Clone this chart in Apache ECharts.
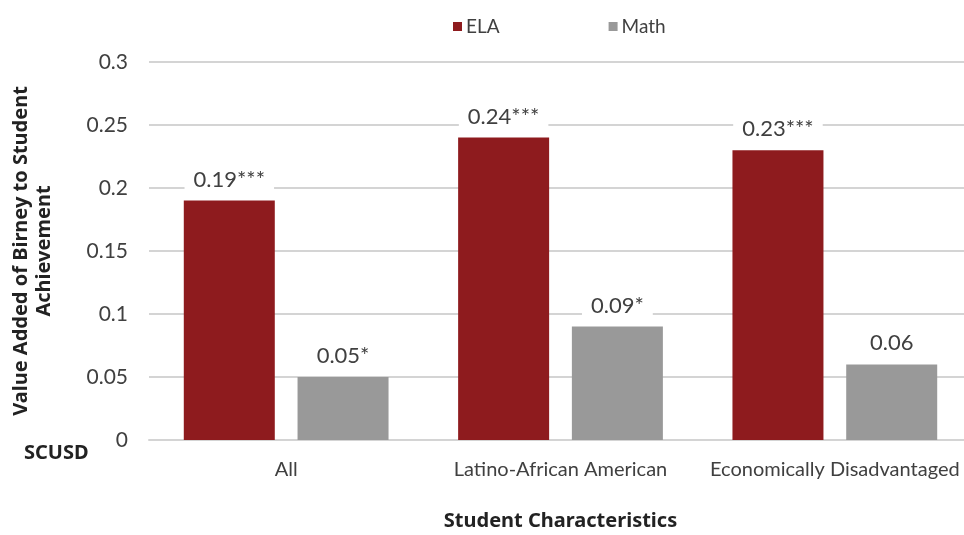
<!DOCTYPE html>
<html><head><meta charset="utf-8">
<script src="https://cdn.jsdelivr.net/npm/echarts@6/dist/echarts.min.js"></script>
<style>html,body{margin:0;padding:0;background:#fff}#c{width:964px;height:535px}</style>
</head><body><div id="c"></div>
<script>
const categories = ["All", "Latino-African American", "Economically Disadvantaged"];
const elaValues = [0.19, 0.24, 0.23];
const mathValues = [0.05, 0.09, 0.06];
const elaStars = ["***", "***", "***"];
const mathStars = ["*", "*", ""];
const yTicks = [0, 0.05, 0.1, 0.15, 0.2, 0.25, 0.3];

const FONT = "Lato";
const BOLD = "Noto Sans";
const chart = echarts.init(document.getElementById('c'));
function lbl(stars) {
  return {
    show: true, position: 'top', distance: 9,
    color: '#404040', fontSize: 22, fontFamily: FONT,
    backgroundColor: '#fff', padding: [1, 9],
    formatter: p => p.value + stars[p.dataIndex]
  };
}
chart.setOption({
  animation: false,
  textStyle: { fontFamily: FONT },
  legend: {
    top: 12, left: 448, itemGap: 109, itemWidth: 9, itemHeight: 9,
    icon: 'rect',
    textStyle: { fontSize: 19, color: '#404040', fontFamily: FONT, padding: [0, 0, 0, -1] },
    data: ['ELA', 'Math']
  },
  grid: { left: 149, top: 62, height: 378, width: 823, outerBoundsMode: 'none', containLabel: false },
  xAxis: {
    type: 'category', data: categories,
    axisLine: { lineStyle: { color: '#d4d4d4', width: 2 } },
    axisTick: { show: false },
    axisLabel: { fontSize: 20, color: '#404040', margin: 20, fontFamily: FONT, interval: 0, hideOverlap: false },
    name: 'Student Characteristics', nameLocation: 'middle', nameGap: 71,
    nameTextStyle: { fontWeight: 'bold', fontSize: 20, color: '#222', fontFamily: BOLD }
  },
  yAxis: {
    type: 'value', min: 0, max: 0.3, interval: 0.05,
    axisLine: { show: false }, axisTick: { show: false },
    splitLine: { lineStyle: { color: '#d4d4d4', width: 2 } },
    axisLabel: {
      fontSize: 21, color: '#404040', margin: 21, fontFamily: FONT,
      formatter: v => { const t = yTicks.find(x => Math.abs(x - v) < 1e-9); return String(t); }
    },
    name: 'Value Added of Birney to Student\nAchievement', nameLocation: 'middle', nameGap: 93,
    nameRotate: 90,
    nameTextStyle: { fontWeight: 'bold', fontSize: 20, color: '#222', lineHeight: 23, fontFamily: BOLD }
  },
  graphic: [{
    type: 'text', left: 24, top: 443,
    style: { text: 'SCUSD', fontWeight: 'bold', fontSize: 20, fill: '#222', fontFamily: BOLD }
  }],
  series: [
    { name: 'ELA', type: 'bar', data: elaValues, barWidth: 91, barGap: '25%',
      itemStyle: { color: '#8e1b1e' }, label: lbl(elaStars) },
    { name: 'Math', type: 'bar', data: mathValues, barWidth: 91,
      itemStyle: { color: '#999999' }, label: lbl(mathStars) }
  ]
});
</script></body></html>
